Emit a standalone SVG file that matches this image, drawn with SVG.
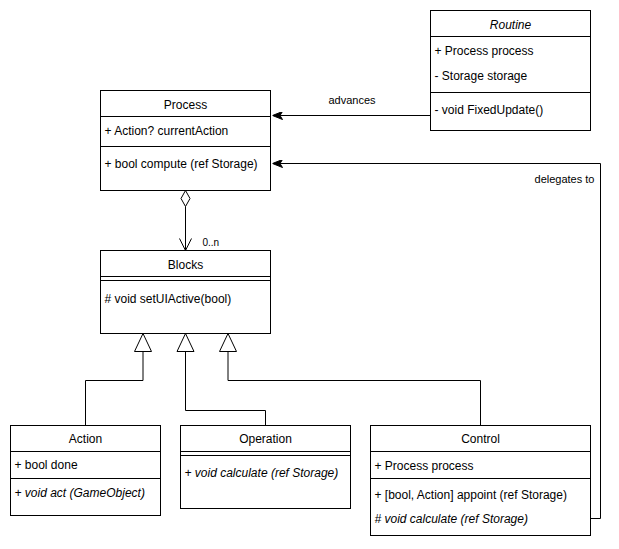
<svg xmlns="http://www.w3.org/2000/svg" width="619" height="549" viewBox="0 0 619 549">
<defs>
<style>
.box{fill:#fff;stroke:#000;stroke-width:1}
.ln{stroke:#000;stroke-width:1;fill:none}
text{font-family:"Liberation Sans",Arial,sans-serif;font-size:12px;fill:#000}
.t{text-anchor:middle}
.i{font-style:italic}
.lbl{font-size:11px}
.sm{font-size:10px}
</style>
<marker id="arr" viewBox="0 0 10 8" refX="10" refY="4" markerWidth="10" markerHeight="8" markerUnits="userSpaceOnUse" orient="auto">
<path d="M0,0 L10,4 L0,8 L2.5,4 z" fill="#000" stroke="#000" stroke-width="1"/>
</marker>
</defs>
<rect width="619" height="549" fill="#fff"/>
<g transform="translate(0.5,0.5)">
<g id="connectors">
<path class="ln" d="M430,115 H272" marker-end="url(#arr)"/>
<text class="lbl t" x="351.5" y="103">advances</text>
<path class="ln" d="M590,518 H600 V163 H272" marker-end="url(#arr)"/>
<text class="lbl t" x="564" y="182">delegates to</text>
<path class="box" d="M185,190 L189.5,198 L185,206 L180.5,198 Z"/>
<path class="ln" d="M185,206 V250"/>
<path class="ln" d="M179,238 L185,250 L191,238"/>
<text class="sm" x="202" y="245.5">0..n</text>
<path class="ln" d="M85,425 V380 H142.5 V351"/>
<path class="box" d="M142.5,333 L151,351 L134,351 Z"/>
<path class="ln" d="M265,425 V410 H185 V351"/>
<path class="box" d="M185,333 L193.5,351 L176.5,351 Z"/>
<path class="ln" d="M480,425 V380 H227.5 V351"/>
<path class="box" d="M227.5,333 L236,351 L219,351 Z"/>
</g>
<g id="routine">
<rect class="box" x="430" y="10" width="160" height="120"/>
<path class="ln" d="M430,36 H590 M430,92 H590"/>
<text class="t i" x="510" y="28">Routine</text>
<text x="434" y="54">+ Process process</text>
<text x="434" y="79">- Storage storage</text>
<text x="434" y="113">- void FixedUpdate()</text>
</g>
<g id="process">
<rect class="box" x="100" y="90" width="170" height="100"/>
<path class="ln" d="M100,116 H270 M100,146 H270"/>
<text class="t" x="185" y="108">Process</text>
<text x="104" y="134">+ Action? currentAction</text>
<text x="104" y="167">+ bool compute (ref Storage)</text>
</g>
<g id="blocks">
<rect class="box" x="100" y="250" width="170" height="83"/>
<path class="ln" d="M100,276 H270 M100,280 H270"/>
<text class="t" x="185" y="268">Blocks</text>
<text x="104" y="302"># void setUIActive(bool)</text>
</g>
<g id="action">
<rect class="box" x="10" y="425" width="150" height="90"/>
<path class="ln" d="M10,451 H160 M10,478 H160"/>
<text class="t" x="85" y="442">Action</text>
<text x="14" y="468">+ bool done</text>
<text class="i" x="14" y="496">+ void act (GameObject)</text>
</g>
<g id="operation">
<rect class="box" x="180" y="425" width="170" height="83"/>
<path class="ln" d="M180,451 H350 M180,455 H350"/>
<text class="t" x="265" y="442">Operation</text>
<text class="i" x="184" y="476">+ void calculate (ref Storage)</text>
</g>
<g id="control">
<rect class="box" x="370" y="425" width="220" height="110"/>
<path class="ln" d="M370,451 H590 M370,478 H590"/>
<text class="t" x="480" y="442">Control</text>
<text x="374" y="469">+ Process process</text>
<text x="374" y="498">+ [bool, Action] appoint (ref Storage)</text>
<text class="i" x="374" y="522"># void calculate (ref Storage)</text>
</g>
</g>
</svg>
